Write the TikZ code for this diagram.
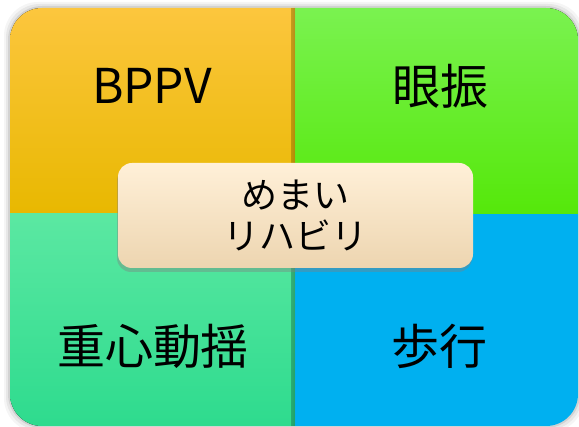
\documentclass[tikz,border=0pt]{standalone}
\usepackage{fontspec}
\setmainfont{Noto Sans CJK JP}
\usetikzlibrary{shadows}
\definecolor{bppvtop}{HTML}{FCC63E}
\definecolor{bppvmid}{HTML}{FFC400}
\definecolor{bppvbot}{HTML}{E8B800}
\definecolor{nysttop}{HTML}{7AF250}
\definecolor{nystbot}{HTML}{55E80A}
\definecolor{swaytop}{HTML}{5BE8A2}
\definecolor{swaybot}{HTML}{2EDB8E}
\definecolor{gaitblue}{HTML}{00B0F0}
\definecolor{rehabtop}{HTML}{FFF0D8}
\definecolor{rehabbot}{HTML}{EDD5B0}
\tikzset{
  quadlabel/.style={font=\fontsize{48}{52}\selectfont, text=black, inner sep=0pt},
  rehabbox/.style={rectangle, rounded corners=14pt, minimum width=355pt, minimum height=105pt,
    top color=rehabtop, bottom color=rehabbot, align=center, inner sep=0pt,
    font=\fontsize{36}{41}\selectfont,
    drop shadow={opacity=0.4, shadow xshift=-1pt, shadow yshift=-4pt}}
}
\begin{document}
\begin{tikzpicture}[x=1pt, y=-1pt]
\useasboundingbox (0,0) rectangle (579,427);

% soft shadow round the panel
\foreach \d/\o in {6/0.04, 4/0.06, 2/0.09}
  \fill[black, opacity=\o, rounded corners=34pt] (10-\d,8-\d) rectangle (578+\d,426+\d);

% four quadrants
\begin{scope}
  \clip[rounded corners=32pt] (10,8) rectangle (578,426);
  \fill[top color=bppvtop, middle color=bppvmid, bottom color=bppvbot] (10,8) rectangle (295,214);
  \fill[top color=nysttop, bottom color=nystbot] (295,8) rectangle (578,214);
  \fill[top color=swaytop, bottom color=swaybot] (10,214) rectangle (295,426);
  \fill[gaitblue] (295,214) rectangle (578,426);
  % faint shade along the borders
  \fill[left color=bppvmid, right color=bppvbot!85!black, opacity=0.3] (291,8) rectangle (295,214);
  \fill[left color=swaybot, right color=swaybot!80!black, opacity=0.3] (291,214) rectangle (295,426);
\end{scope}

\node[quadlabel] (bppv) at (152,86) {BPPV};
\node[quadlabel] (nystagmus) at (440,86) {眼振};
\node[quadlabel] (sway) at (153,346) {重心動揺};
\node[quadlabel] (gait) at (439,346) {歩行};

\node[rehabbox] (rehab) at (295.5,215.5) {めまい\\リハビリ};

\end{tikzpicture}
\end{document}
